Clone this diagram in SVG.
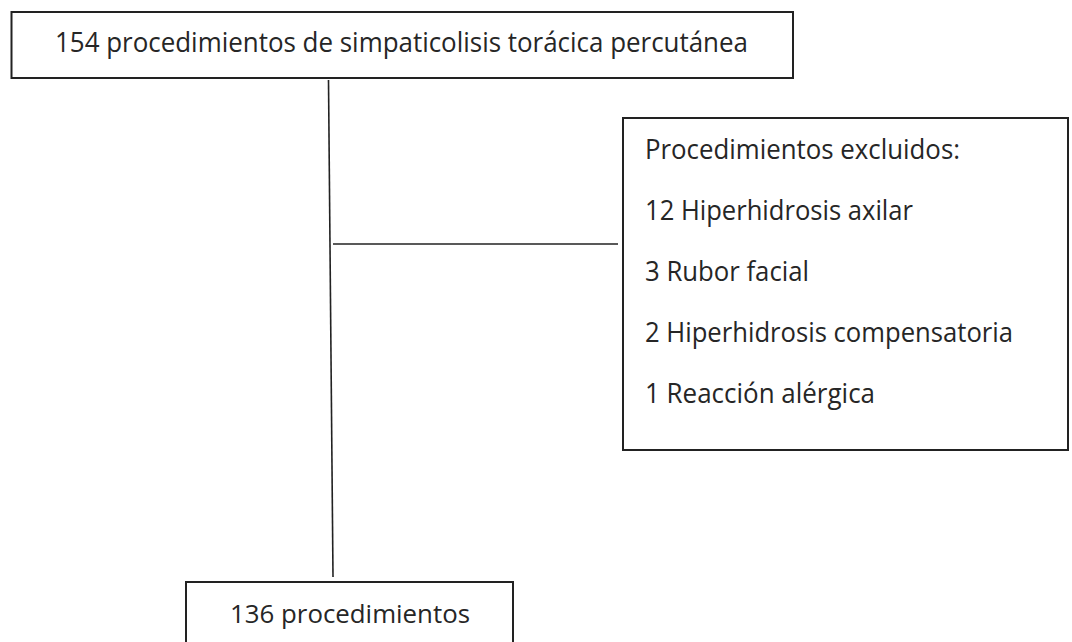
<svg xmlns="http://www.w3.org/2000/svg" width="1072" height="642" viewBox="0 0 1072 642">
<style>
.box{fill:#fff;stroke:#222;stroke-width:2}
.ln{stroke:#222;stroke-width:1.6;fill:none}
.t{font-family:"Open Sans","Noto Sans","Liberation Sans",sans-serif;font-size:26.5px;fill:#262626}
.s{font-size:25px}
</style>
<rect width="1072" height="642" fill="#fff"/>
<g id="connectors">
<line class="ln" x1="328.5" y1="80" x2="333" y2="577"/>
<line class="ln" x1="333" y1="244" x2="618" y2="244"/>
</g>
<g id="node-total">
<rect class="box" x="11.5" y="12" width="781.5" height="66"/>
<text class="t" x="55" y="52" textLength="693" lengthAdjust="spacingAndGlyphs">154 procedimientos de simpaticolisis torácica percutánea</text>
</g>
<g id="node-excluidos">
<rect class="box" x="623" y="118" width="445" height="332"/>
<text class="t" x="645" y="159" textLength="315" lengthAdjust="spacingAndGlyphs">Procedimientos excluidos:</text>
<text class="t" x="645" y="220" textLength="268" lengthAdjust="spacingAndGlyphs">12 Hiperhidrosis axilar</text>
<text class="t" x="645" y="281" textLength="164" lengthAdjust="spacingAndGlyphs">3 Rubor facial</text>
<text class="t" x="645" y="342" textLength="368" lengthAdjust="spacingAndGlyphs">2 Hiperhidrosis compensatoria</text>
<text class="t" x="645" y="403" textLength="230" lengthAdjust="spacingAndGlyphs">1 Reacción alérgica</text>
</g>
<g id="node-final">
<rect class="box" x="186" y="582" width="327" height="70"/>
<text class="t s" x="230" y="623" textLength="240" lengthAdjust="spacingAndGlyphs">136 procedimientos</text>
</g>
</svg>
